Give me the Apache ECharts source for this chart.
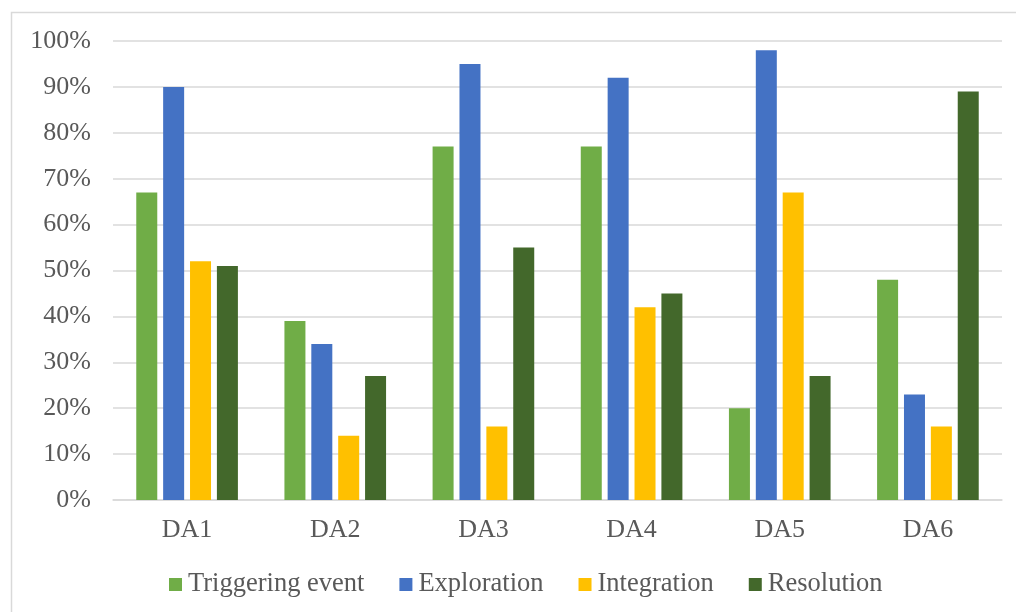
<!DOCTYPE html>
<html>
<head>
<meta charset="utf-8">
<script src="https://cdn.jsdelivr.net/npm/echarts@6/dist/echarts.min.js"></script>
<style>
  html, body { margin: 0; padding: 0; background: #fff; }
  #chart { width: 1016px; height: 612px; }
</style>
</head>
<body>
<div id="chart"></div>
<script>
// Stage shares (%) per data analysis
const categories = ['DA1', 'DA2', 'DA3', 'DA4', 'DA5', 'DA6'];
const triggeringEvent = [67, 39, 77, 77, 20, 48];
const exploration = [90, 34, 95, 92, 98, 23];
const integration = [52, 14, 16, 42, 67, 16];
const resolution = [51, 27, 55, 45, 27, 89];
const yTicks = [0, 10, 20, 30, 40, 50, 60, 70, 80, 90, 100];

const font = 'Liberation Serif, Times New Roman, serif';
const textColor = '#595959';

function barSeries(name, data, color) {
  return {
    name: name,
    type: 'bar',
    data: data,
    barWidth: 21,
    barGap: '28%',
    itemStyle: { color: color },
    emphasis: { disabled: true }
  };
}

const chart = echarts.init(document.getElementById('chart'), null, { renderer: 'canvas' });
chart.setOption({
  animation: false,
  backgroundColor: '#ffffff',
  graphic: [{
    type: 'rect',
    shape: { x: 11.5, y: 12.5, width: 1010, height: 610 },
    style: { fill: 'none', stroke: '#d9d9d9', lineWidth: 1.5 },
    silent: true
  }],
  grid: { left: 113, right: 14, top: 41, bottom: 112, containLabel: false },
  legend: {
    top: 566,
    left: 164,
    itemWidth: 13,
    itemHeight: 13,
    itemGap: 35,
    icon: 'rect',
    textStyle: { fontFamily: font, fontSize: 26.5, color: textColor, padding: [0, 0, 0, 1] },
    data: ['Triggering event', 'Exploration', 'Integration', 'Resolution']
  },
  xAxis: {
    type: 'category',
    data: categories,
    axisLine: { lineStyle: { color: '#d9d9d9', width: 1.5 } },
    axisTick: { show: false },
    axisLabel: { fontFamily: font, fontSize: 26, color: textColor, margin: 17 }
  },
  yAxis: {
    type: 'value',
    min: yTicks[0],
    max: yTicks[yTicks.length - 1],
    interval: 10,
    axisLine: { show: false },
    axisTick: { show: false },
    splitLine: { lineStyle: { color: '#d9d9d9', width: 1.5 } },
    axisLabel: {
      fontFamily: font, fontSize: 26, color: textColor, margin: 22,
      formatter: function (v) { return v + '%'; }
    }
  },
  series: [
    barSeries('Triggering event', triggeringEvent, '#70ad47'),
    barSeries('Exploration', exploration, '#4472c4'),
    barSeries('Integration', integration, '#ffc000'),
    barSeries('Resolution', resolution, '#43682b')
  ]
});
</script>
</body>
</html>
